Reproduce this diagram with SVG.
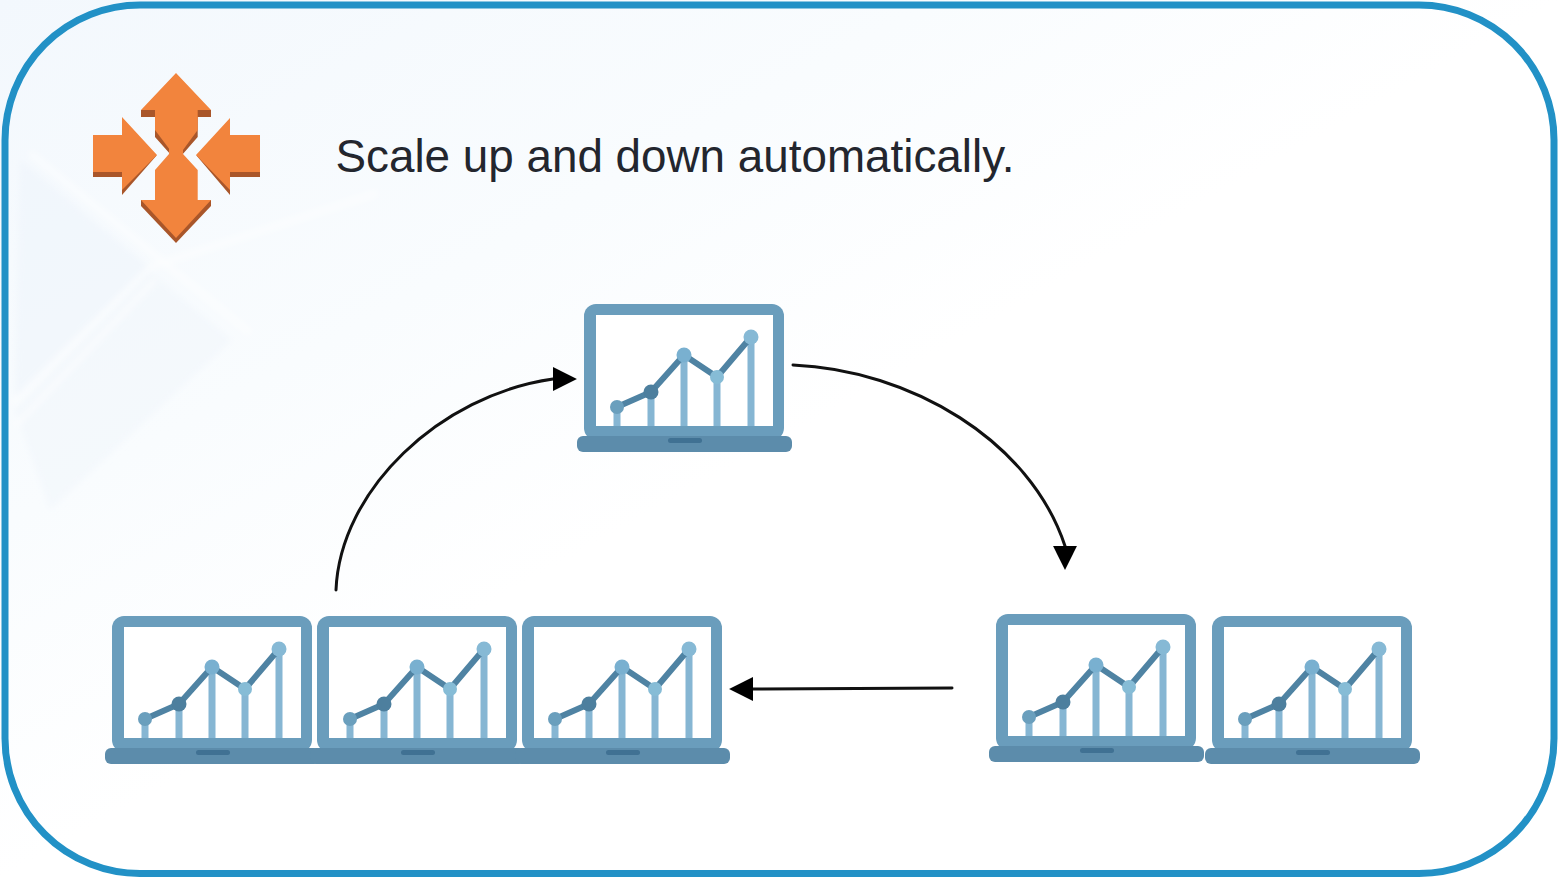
<svg xmlns="http://www.w3.org/2000/svg" width="1564" height="880" viewBox="0 0 1564 880">
<style>
.frame{fill:#6a9dbc}
.screen{fill:#fff}
.base{fill:#5c8cab}
.notch{fill:#3f7193}
.bar{fill:#86b6d3}
.trend{fill:none;stroke:#4f83a3;stroke-width:6;stroke-linejoin:round}
.or{fill:#f2843c}
.sh{fill:#a9572b}
.conn{fill:none;stroke:#111;stroke-width:3;stroke-linecap:round}
.title{font-family:"Liberation Sans",Arial,sans-serif;font-size:45.8px;fill:#23262e}
.soft{filter:url(#soft)}
</style>
<defs>
<filter id="soft" x="-5%" y="-5%" width="110%" height="110%"><feGaussianBlur stdDeviation="0.7"/></filter>
<filter id="haze" x="-10%" y="-10%" width="120%" height="120%"><feGaussianBlur stdDeviation="3"/></filter>
<linearGradient id="bg" x1="0" y1="0" x2="1" y2="1" gradientUnits="objectBoundingBox">
<stop offset="0" stop-color="#f3f8fd"/><stop offset="0.3" stop-color="#f9fcfe"/><stop offset="0.5" stop-color="#ffffff"/>
</linearGradient>
<marker id="head" markerUnits="userSpaceOnUse" markerWidth="24" markerHeight="24" viewBox="0 0 22 22" refX="1" refY="11" orient="auto">
<path d="M0 0L22 11L0 22z" fill="#000"/>
</marker>
<g id="laptop">
<rect class="frame" x="584" y="304" width="200" height="136" rx="12"/>
<rect class="screen" x="596" y="315" width="177" height="111"/>
<rect class="bar" x="613.500" y="407" width="7" height="19"/>
<rect class="bar" x="647.500" y="392" width="7" height="34"/>
<rect class="bar" x="680.500" y="355" width="7" height="71"/>
<rect class="bar" x="713.500" y="377" width="7" height="49"/>
<rect class="bar" x="747.500" y="337" width="7" height="89"/>
<polyline class="trend" points="617,407 651,392 684,355 717,377 751,337"/>
<circle cx="617" cy="407" r="7" fill="#6b9fbd"/>
<circle cx="651" cy="392" r="7.500" fill="#4d7f9e"/>
<circle cx="684" cy="355" r="7.500" fill="#79b0d0"/>
<circle cx="717" cy="377" r="7" fill="#86bcd6"/>
<circle cx="751" cy="337" r="7.500" fill="#86b9d5"/>
<rect class="base" x="577" y="436" width="215" height="16" rx="6"/>
<rect class="notch" x="668" y="438" width="34" height="5" rx="2.500"/>
</g>
</defs>
<rect id="background" width="1564" height="880" fill="url(#bg)"/>
<g id="background-facets" fill="none" filter="url(#haze)">
<path d="M20 160L150 268L15 400z" fill="#edf4fb" opacity="0.5"/>
<path d="M15 410L150 272L232 340L50 510z" fill="#eff5fc" opacity="0.5"/>
<path d="M13 403L150 267M16 425L155 280M30 153L250 333M150 267L377 193" stroke="#fff" stroke-width="5" opacity="0.6"/>
</g>
<rect id="frame" x="5" y="5" width="1549" height="868.500" rx="135" fill="none" stroke="#2191c6" stroke-width="7" class="soft"/>
<g id="scale-icon" class="soft">
<path class="sh" d="M141 110V117H155V137L171 155H182L197.700 137V117H211V110z"/>
<path class="or" d="M176 73L141 110H155V130L170 150H183L197.700 130V110H211z"/>
<path class="sh" d="M141 200V206L176 243L211 206V200z"/>
<path class="or" d="M155 170L169 154H183L197.700 170V200H211L176 238L141 200H155z"/>
<rect class="or" x="169" y="148" width="14" height="10"/>
<path class="sh" d="M93 172V177H122V195L157 155L122 172z"/>
<path class="or" d="M93 135V172H122V190L157 155L122 117V135z"/>
<path class="sh" d="M260 172V177H230V195L196 155L230 172z"/>
<path class="or" d="M260 135V172H230V190L196 155L230 118V135z"/>
</g>
<text id="title" class="title" x="335.500" y="172">Scale up and down automatically.</text>
<g id="connectors">
<path class="conn" marker-end="url(#head)" d="M336 590C340 490 440 395 553 379L554 379"/>
<path class="conn" marker-end="url(#head)" d="M793 365C910 370 1030 440 1065 546L1065 547"/>
<path class="conn" marker-end="url(#head)" d="M952 688L752 689"/>
</g>
<g id="laptop-top" class="soft"><use href="#laptop"/></g>
<g id="laptop-left-1" class="soft"><use href="#laptop" x="-472" y="312"/></g>
<g id="laptop-left-2" class="soft"><use href="#laptop" x="-267" y="312"/></g>
<g id="laptop-left-3" class="soft"><use href="#laptop" x="-62" y="312"/></g>
<g id="laptop-right-1" class="soft"><use href="#laptop" x="412" y="310"/></g>
<g id="laptop-right-2" class="soft"><use href="#laptop" x="628" y="312"/></g>
</svg>
